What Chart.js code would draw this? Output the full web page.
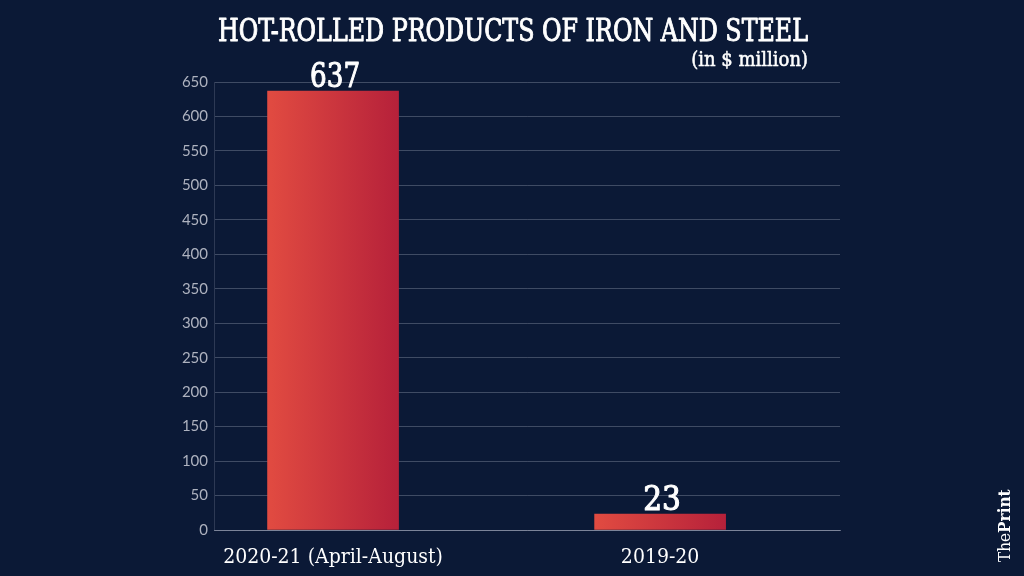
<!DOCTYPE html>
<html>
<head>
<meta charset="utf-8">
<script src="https://cdn.jsdelivr.net/npm/chart.js@4/dist/chart.umd.min.js"></script>
<style>
  html, body { margin:0; padding:0; background:#0b1936; }
  #wrap { width:1024px; height:576px; }
</style>
</head>
<body>
<div id="wrap"><canvas id="steelChart"></canvas></div>
<script>
// data
var categories = ["2020-21 (April-August)", "2019-20"];
var values = [637, 23];
var positions = [0, 1];
var yTicks = [0, 50, 100, 150, 200, 250, 300, 350, 400, 450, 500, 550, 600, 650];

var serif = '"DejaVu Serif Condensed", "DejaVu Serif", serif';

// fill plus a thin stroke, for a semi-bold look
function heavyText(ctx, text, x, y, maxW, lw) {
  ctx.lineWidth = lw;
  ctx.fillText(text, x, y, maxW);
  ctx.strokeText(text, x, y, maxW);
}

// titles, bar values and the logo
var extras = {
  id: 'extras',
  afterDatasetsDraw: function(chart) {
    var ctx = chart.ctx;
    ctx.save();
    ctx.fillStyle = '#ffffff';
    ctx.strokeStyle = '#ffffff';
    ctx.lineJoin = 'round';
    ctx.textAlign = 'center';
    ctx.textBaseline = 'alphabetic';
    ctx.font = '31px ' + serif;
    heavyText(ctx, 'HOT-ROLLED PRODUCTS OF IRON AND STEEL', 513, 41, 590, 0.9);
    ctx.textAlign = 'right';
    ctx.font = '20px ' + serif;
    heavyText(ctx, '(in $ million)', 808, 66, 118, 0.5);

    // value labels over the bars
    var meta = chart.getDatasetMeta(0);
    ctx.textAlign = 'center';
    ctx.font = '33px ' + serif;
    meta.data.forEach(function(bar, i) {
      heavyText(ctx, String(values[i]), bar.x + 2, bar.y - 4, 50, 1);
    });

    // ThePrint, vertical
    ctx.translate(1010, 562);
    ctx.rotate(-Math.PI / 2);
    ctx.textAlign = 'left';
    ctx.font = '17px ' + serif;
    ctx.fillText('The', 0, 0);
    var w = ctx.measureText('The').width;
    ctx.font = 'bold 17px ' + serif;
    ctx.fillText('Print', w, 0);
    ctx.restore();
  }
};

function barFill(context) {
  var chart = context.chart;
  if (!chart.chartArea) return '#cf353c';
  var cx = chart.scales.x.getPixelForValue(positions[context.dataIndex]);
  var g = chart.ctx.createLinearGradient(cx - 65, 0, cx + 65, 0);
  g.addColorStop(0, '#e14b41');
  g.addColorStop(1, '#b6213a');
  return g;
}

var ctx = document.getElementById('steelChart').getContext('2d');
var steelChart = new Chart(ctx, {
  type: 'bar',
  data: {
    datasets: [{
      label: '',
      data: positions.map(function(p, i) { return { x: p, y: values[i] }; }),
      backgroundColor: barFill,
      borderWidth: 0,
      barThickness: 131
    }]
  },
  options: {
    responsive: true,
    maintainAspectRatio: false,
    animation: false,
    layout: {
      padding: { left: 0, right: 184, top: 82, bottom: 0 }
    },
    plugins: {
      legend: { display: false },
      tooltip: { enabled: false }
    },
    scales: {
      x: {
        type: 'linear',
        offset: false,
        min: -0.364,
        max: 1.55,
        afterBuildTicks: function(scale) {
          scale.ticks = positions.map(function(p) { return { value: p }; });
        },
        afterFit: function(scale) { scale.height = 46; },
        grid: { display: false },
        border: { display: true, color: 'rgba(200,205,220,0.45)', width: 1 },
        ticks: {
          color: '#ffffff',
          padding: 7,
          maxRotation: 0,
          autoSkip: false,
          font: { family: serif, size: 21 },
          callback: function(v) { return categories[positions.indexOf(v)]; }
        }
      },
      y: {
        min: 0,
        max: 650,
        afterBuildTicks: function(scale) {
          scale.ticks = yTicks.map(function(v) { return { value: v }; });
        },
        afterFit: function(scale) { scale.width = 214; },
        grid: { color: 'rgba(200,205,220,0.28)', drawTicks: false },
        border: { display: true, color: 'rgba(200,205,220,0.18)' },
        ticks: {
          color: '#aeb2bf',
          padding: 6,
          font: { family: 'Lato', size: 15 }
        }
      }
    }
  },
  plugins: [extras]
});
</script>
</body>
</html>
